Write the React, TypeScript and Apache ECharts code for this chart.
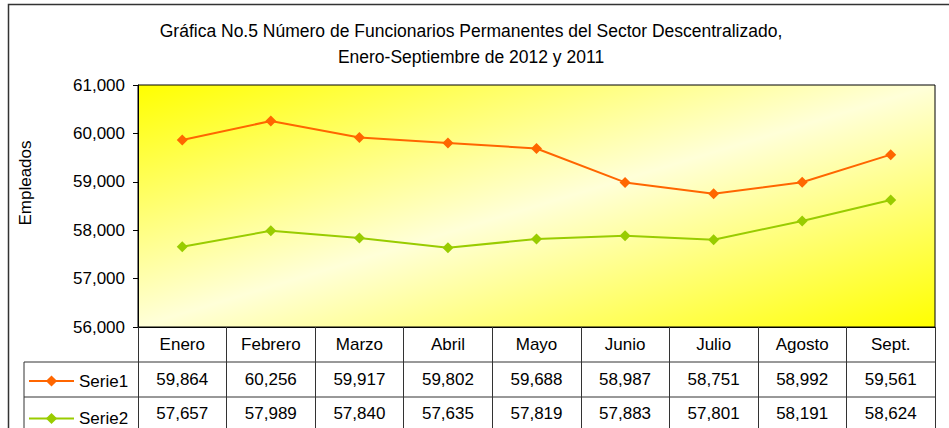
import React, { useEffect, useRef } from "react";
import * as echarts from "echarts";

const months = ["Enero", "Febrero", "Marzo", "Abril", "Mayo", "Junio", "Julio", "Agosto", "Sept."];
const serie1 = [59864, 60256, 59917, 59802, 59688, 58987, 58751, 58992, 59561];
const serie2 = [57657, 57989, 57840, 57635, 57819, 57883, 57801, 58191, 58624];
const seriesNames = ["Serie1", "Serie2"];
const titleLines = [
  "Gráfica No.5 Número de Funcionarios Permanentes del Sector Descentralizado,",
  "Enero-Septiembre de 2012 y 2011",
];
const yName = "Empleados";

const FONT = "Liberation Sans, Arial, sans-serif";
const fmt = (v: number) => v.toLocaleString("en-US");

export default function App() {
  const ref = useRef<HTMLDivElement>(null);
  useEffect(() => {
    if (!ref.current) return;
    const chart = echarts.init(ref.current, undefined, { renderer: "svg" });
    const W = 949;
    const gl = 138, gr = 14, gt = 85, gb = 101;
    const gridBottomY = 428 - gb;
    const rightX = W - gr;
    const lineColor = "#333";
    const labelStyle = { color: "#000", fontFamily: FONT, fontSize: 17 };
    chart.setOption({
      animation: false,
      backgroundColor: "#fff",
      textStyle: { fontFamily: FONT },
      title: {
        text: titleLines.join("\n"),
        left: 471,
        textAlign: "center",
        top: 18,
        padding: 0,
        textStyle: { fontFamily: FONT, fontSize: 17.5, fontWeight: "normal", color: "#000", lineHeight: 26 },
      },
      legend: {
        orient: "vertical",
        left: 28,
        top: 372.5,
        padding: 0,
        itemWidth: 45,
        itemHeight: 14,
        itemGap: 20.5,
        textStyle: { ...labelStyle },
        data: seriesNames,
      },
      grid: {
        left: gl,
        right: gr,
        top: gt,
        bottom: gb,
        show: true,
        borderColor: "#000",
        borderWidth: 1,
        backgroundColor: new echarts.graphic.LinearGradient(0, 0, 1, 1, [
          { offset: 0, color: "#FFFF00" },
          { offset: 0.5, color: "#FFFFD8" },
          { offset: 1, color: "#FFFF00" },
        ]),
      },
      xAxis: [
        {
          type: "category",
          data: months,
          boundaryGap: true,
          axisLine: { show: true, lineStyle: { color: "#000", width: 1 } },
          axisTick: { show: true, interval: 0, length: 101, lineStyle: { color: lineColor } },
          axisLabel: { ...labelStyle, interval: 0, margin: 17.5, verticalAlign: "middle" },
          splitLine: { show: false },
        },
        {
          type: "category",
          data: serie1.map(fmt),
          position: "bottom",
          offset: 35,
          boundaryGap: true,
          axisLine: { show: false },
          axisTick: { show: false },
          axisLabel: { ...labelStyle, interval: 0, margin: 17.5, verticalAlign: "middle" },
        },
        {
          type: "category",
          data: serie2.map(fmt),
          position: "bottom",
          offset: 70,
          boundaryGap: true,
          axisLine: { show: false },
          axisTick: { show: false },
          axisLabel: { ...labelStyle, interval: 0, margin: 16, verticalAlign: "middle" },
        },
      ],
      yAxis: {
        type: "value",
        min: 56000,
        max: 61000,
        interval: 1000,
        axisLine: { show: true, lineStyle: { color: "#000" } },
        axisTick: { show: true, length: 5, lineStyle: { color: "#000" } },
        axisLabel: { ...labelStyle, margin: 13, formatter: (v: number) => fmt(v) },
        splitLine: { show: false },
      },
      graphic: [
        {
          type: "rect",
          shape: { x: 8.5, y: 4.5, width: 960, height: 460 },
          style: { fill: "none", stroke: "#333", lineWidth: 1.5 },
          silent: true,
          z: -1,
        },
        {
          type: "text",
          x: 25,
          y: 183,
          rotation: Math.PI / 2,
          style: { text: yName, font: `17px ${FONT}`, fill: "#000", align: "center", verticalAlign: "middle" },
        },
        {
          type: "line",
          shape: { x1: 24, y1: gridBottomY + 35, x2: rightX, y2: gridBottomY + 35 },
          style: { stroke: lineColor, lineWidth: 1 },
        },
        {
          type: "line",
          shape: { x1: 24, y1: gridBottomY + 70, x2: rightX, y2: gridBottomY + 70 },
          style: { stroke: lineColor, lineWidth: 1 },
        },
        {
          type: "line",
          shape: { x1: 24, y1: gridBottomY + 35, x2: 24, y2: 440 },
          style: { stroke: lineColor, lineWidth: 1 },
        },
      ],
      series: [
        {
          name: seriesNames[0],
          type: "line",
          data: serie1,
          symbol: "diamond",
          symbolSize: 11,
          itemStyle: { color: "#FF6600" },
          lineStyle: { color: "#FF6600", width: 2 },
        },
        {
          name: seriesNames[1],
          type: "line",
          data: serie2,
          symbol: "diamond",
          symbolSize: 11,
          itemStyle: { color: "#99CC00" },
          lineStyle: { color: "#99CC00", width: 2 },
        },
      ],
    });
    return () => chart.dispose();
  }, []);
  return (
    <div
      ref={ref}
      style={{ position: "absolute", left: 0, top: 0, width: 949, height: 428 }}
    />
  );
}
